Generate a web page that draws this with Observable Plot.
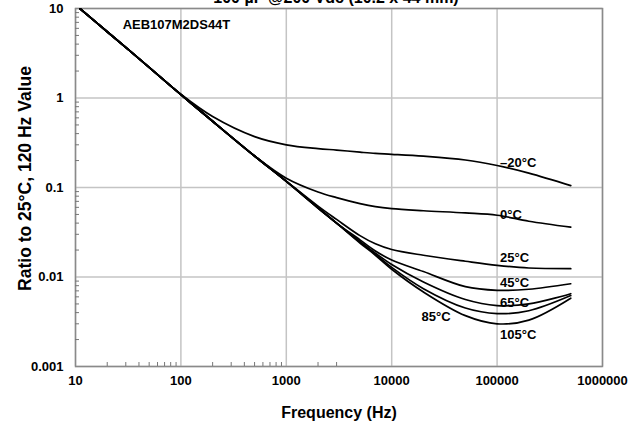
<!DOCTYPE html>
<html>
<head>
<meta charset="utf-8">
<script src="https://cdn.jsdelivr.net/npm/d3@7"></script>
<script src="https://cdn.jsdelivr.net/npm/@observablehq/plot@0.6"></script>
<style>
  html, body { margin: 0; padding: 0; background: #fff; }
  #wrap { position: relative; width: 632px; height: 425px; overflow: hidden; font-family: "Liberation Sans", Arial, sans-serif; }
  #title { position: absolute; top: -10px; left: 0; width: 672px; text-align: center; font-weight: bold; font-size: 16px; line-height: 16px; color: #000; white-space: nowrap; }
</style>
</head>
<body>
<div id="wrap"><div id="title">100 µF @200 Vdc (10.2 x 44 mm)</div><div id="chart"></div></div>
<script>
const freq = [11, 20, 50, 100, 200, 500, 1000, 2000, 3000, 5000, 7000, 10000, 20000, 50000, 100000, 200000, 500000];
const tM20 = [10, 5.5, 2.2, 1.1, 0.62, 0.37, 0.30, 0.272, 0.262, 0.248, 0.240, 0.235, 0.224, 0.203, 0.176, 0.145, 0.105];
const t0   = [10, 5.5, 2.2, 1.09, 0.55, 0.225, 0.127, 0.089, 0.077, 0.066, 0.061, 0.058, 0.055, 0.052, 0.049, 0.042, 0.036];
const t25  = [10, 5.5, 2.2, 1.09, 0.55, 0.225, 0.118, 0.062, 0.044, 0.029, 0.0235, 0.0203, 0.0175, 0.015, 0.0135, 0.0126, 0.0124];
const t45  = [10, 5.5, 2.2, 1.09, 0.55, 0.225, 0.117, 0.060, 0.040, 0.026, 0.0195, 0.0155, 0.0115, 0.0078, 0.0071, 0.0073, 0.0084];
const t65  = [10, 5.5, 2.2, 1.09, 0.55, 0.225, 0.117, 0.059, 0.040, 0.025, 0.0185, 0.0138, 0.0088, 0.0056, 0.0048, 0.0050, 0.0065];
const t85  = [10, 5.5, 2.2, 1.09, 0.55, 0.225, 0.117, 0.059, 0.040, 0.0245, 0.018, 0.0128, 0.0074, 0.0045, 0.0039, 0.0042, 0.0062];
const t105 = [10, 5.5, 2.2, 1.09, 0.55, 0.225, 0.117, 0.059, 0.040, 0.024, 0.0175, 0.0122, 0.0068, 0.0037, 0.0030, 0.0033, 0.0058];

const seriesNames = ["–20°C", "0°C", "25°C", "45°C", "65°C", "85°C", "105°C"];
const seriesValues = [tM20, t0, t25, t45, t65, t85, t105];
const labelFreq = [100000, 100000, 100000, 100000, 100000, 18000, 100000];
const labelValue = [0.19, 0.05, 0.0162, 0.0085, 0.0052, 0.00356, 0.00228];

const xTicks = [10, 100, 1000, 10000, 100000, 1000000];
const yTicks = [0.001, 0.01, 0.1, 1, 10];
const xMinor = [20, 30, 40, 50, 60, 70, 80, 90, 200, 300, 400, 500, 600, 700, 800, 900, 2000, 3000];
const yMinor = [0.002,0.003,0.004,0.005,0.006,0.007,0.008,0.009,0.02,0.03,0.04,0.05,0.06,0.07,0.08,0.09,0.2,0.3,0.4,0.5,0.6,0.7,0.8,0.9,2,3,4,5,6,7,8,9];
const partNumber = "AEB107M2DS44T";
const xTitle = "Frequency (Hz)";
const yTitle = "Ratio to 25°C, 120 Hz Value";

const rows = [];
seriesNames.forEach((name, i) => freq.forEach((f, j) => rows.push({series: name, f, v: seriesValues[i][j]})));
const labels = seriesNames.map((name, i) => ({name, f: labelFreq[i], v: labelValue[i]}));

const W = 632, H = 425, mL = 75, mR = 30, mT = 8, mB = 59;
const font = "Liberation Sans, Arial, sans-serif";

const chart = Plot.plot({
  width: W, height: H,
  marginLeft: mL, marginRight: mR, marginTop: mT, marginBottom: mB,
  style: {fontFamily: font, background: "#fff", color: "#000"},
  x: {type: "log", domain: [10, 1000000]},
  y: {type: "log", domain: [0.001, 10]},
  marks: [
    Plot.gridX(xTicks, {stroke: "#c4c4c4", strokeOpacity: 1, strokeWidth: 1.5}),
    Plot.gridY(yTicks, {stroke: "#c4c4c4", strokeOpacity: 1, strokeWidth: 1.5}),
    Plot.frame({stroke: "#8a8a8a", strokeWidth: 1.5}),
    Plot.ruleX(xMinor, {stroke: "#777", strokeWidth: 1, insetTop: H - mT - mB - 4}),
    Plot.ruleY(yMinor, {stroke: "#777", strokeWidth: 1, insetRight: W - mL - mR - 4}),
    Plot.axisX(xTicks, {tickSize: 0, tickPadding: 9, tickFormat: d => String(d), fontSize: 13, fontWeight: "bold", label: null}),
    Plot.axisY(yTicks, {tickSize: 0, tickPadding: 12, tickFormat: d => String(d), fontSize: 13, fontWeight: "bold", label: null}),
    Plot.line(rows, {x: "f", y: "v", z: "series", stroke: "#000", strokeWidth: 1.7, curve: "catmull-rom", clip: true}),
    Plot.text(labels, {x: "f", y: "v", text: "name", textAnchor: "start", dx: 3, fontSize: 13, fontWeight: "bold", fill: "#000"}),
    Plot.text([partNumber], {x: [28], y: [6.56], text: d => d, textAnchor: "start", fontSize: 13, fontWeight: "bold"}),
    Plot.text([xTitle], {frameAnchor: "bottom", dy: 46, lineAnchor: "middle", text: d => d, fontSize: 16, fontWeight: "bold"}),
    Plot.text([yTitle], {frameAnchor: "left", dx: -50, dy: -9, rotate: -90, textAnchor: "middle", lineAnchor: "middle", text: d => d, fontSize: 17.5, fontWeight: "bold"})
  ]
});
document.getElementById("chart").appendChild(chart);
</script>
</body>
</html>
